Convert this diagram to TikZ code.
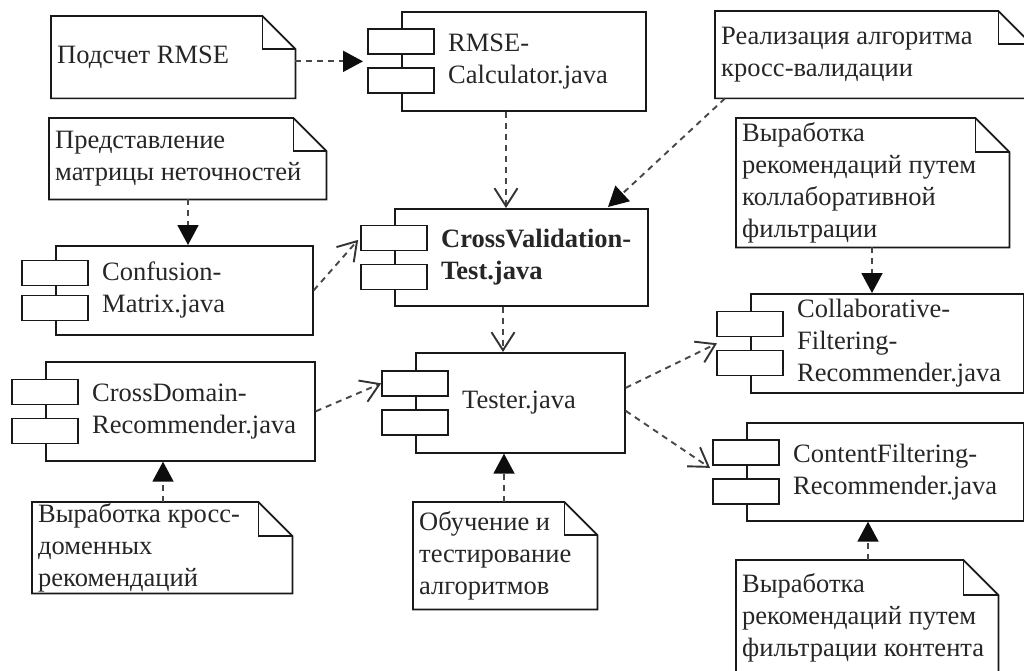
\documentclass[tikz,border=0pt]{standalone}
\usepackage{fontspec}
\setmainfont{Liberation Serif}
\usetikzlibrary{arrows.meta,calc}

\tikzset{
  every node/.style={font=\fontsize{26.5}{32}\selectfont, text=black!85},
  compbox/.style={draw=black!90, line width=1.7pt, fill=white, inner sep=0pt, anchor=north west},
  portbox/.style={draw=black!90, line width=1.7pt, fill=white, minimum width=66pt, minimum height=25pt, inner sep=0pt},
  comptext/.style={anchor=west, align=left, inner sep=0pt},
  notebox/.style={inner sep=0pt, anchor=north west},
  noteline/.style={draw=black!90, line width=1.7pt, fill=white, line join=miter},
  notetext/.style={anchor=west, align=left, inner sep=0pt},
  depline/.style={draw=black!72, line width=1.9pt, dash pattern=on 6pt off 5pt},
  solidtip/.style={-{Triangle[length=20pt,width=21pt,color=black!95]}},
  opentip/.style={-{Straight Barb[length=18pt,width=23pt,color=black!80]}},
}

% component: name, x, y, width, height, port offset, text
\newcommand\compo[7]{%
  \node[compbox, minimum width=#4pt, minimum height=#5pt] (#1) at (#2,#3) {};
  \node[portbox] (#1-a) at ($(#1.west)+(0,-#6)$) {};
  \node[portbox] (#1-b) at ($(#1.west)+(0,#6)$) {};
  \node[comptext] (#1-t) at ($(#1.west)+(47,0)$) {#7};
}

% note with folded corner: name, x, y, width, height, fold, text
\newcommand\memo[7]{%
  \node[notebox, minimum width=#4pt, minimum height=#5pt] (#1) at (#2,#3) {};
  \draw[noteline] (#1.north west) -- ($(#1.north east)+(-#6,0)$) -- ($(#1.north east)+(0,#6)$)
    -- (#1.south east) -- (#1.south west) -- cycle;
  \draw[noteline, fill=none] ($(#1.north east)+(-#6,0)$) -- ($(#1.north east)+(-#6,#6)$)
    -- ($(#1.north east)+(0,#6)$);
  \node[notetext] (#1-t) at ($(#1.west)+(6,0)$) {#7};
}

\begin{document}
\begin{tikzpicture}[x=1pt,y=-1pt]
\useasboundingbox (0,0) rectangle (1024,671);
\fill[white] (0,0) rectangle (1024,671);
\clip (0,0) rectangle (1024,671);

% notes
\memo{nrmse}{51}{16}{244}{82}{33}{Подсчет RMSE}
\memo{nconf}{49}{118}{277}{81}{33}{Представление\\матрицы неточностей}
\memo{ncv}{715}{11}{316}{87}{33}{Реализация алгоритма\\кросс-валидации}
\memo{ncollab}{736}{118}{273}{129}{34}{Выработка\\рекомендаций путем\\коллаборативной\\фильтрации}
\memo{ntester}{413}{502}{184}{107}{33}{Обучение и\\тестирование\\алгоритмов}
\memo{ncross}{32}{502}{260}{91}{34}{Выработка кросс-\\доменных\\рекомендаций}
\memo{ncontent}{736}{560}{262}{116}{35}{Выработка\\рекомендаций путем\\фильтрации контента}

% components
\compo{rmse}{401}{11}{244}{99}{19.5}{RMSE-\\Calculator.java}
\compo{cv}{394}{208}{253}{97}{19.5}{{\bfseries CrossValidation-}\\{\bfseries Test.java}}
\compo{conf}{55}{245}{257}{89}{17.5}{Confusion-\\Matrix.java}
\compo{cross}{45}{361}{269}{99}{19.5}{CrossDomain-\\Recommender.java}
\compo{tester}{415}{352}{209}{100}{19.5}{Tester.java}
\compo{collab}{750}{293}{272.5}{99}{19.5}{Collaborative-\\Filtering-\\Recommender.java}
\compo{content}{746}{422}{276.5}{98}{19.5}{ContentFiltering-\\Recommender.java}

% dependencies
\draw[depline, solidtip] (nrmse.east |- rmse.west) -- ($(rmse.west)+(-38,0)$);
\draw[depline, opentip] ($(rmse.south west)+(105,0)$) -- ($(cv.north west)+(112,0)$);
\draw[depline, solidtip] ($(ncv.south west)+(10,0)$) -- ($(cv.north west)+(214,-1)$);
\draw[depline, solidtip] ($(nconf.south west)+(139,0)$) -- ($(conf.north west)+(133,0)$);
\draw[depline, opentip] (conf.east) -- ($(cv-a.west)+(-2,2)$);
\draw[depline, opentip] (cross.east) -- (tester-a.west);
\draw[depline, solidtip] ($(ncross.north west)+(131,0)$) -- ($(cross.south west)+(118,0)$);
\draw[depline, opentip] ($(cv.south west)+(109,0)$) -- ($(tester.north west)+(88,0)$);
\draw[depline, solidtip] ($(ntester.north west)+(91,0)$) -- ($(tester.south west)+(89,0)$);
\draw[depline, opentip] ($(tester.east)+(0,-15)$) -- ($(collab.west)+(-33,0)$);
\draw[depline, opentip] ($(tester.east)+(0,8)$) -- ($(content.west)+(-36,-4)$);
\draw[depline, solidtip] ($(ncollab.south west)+(136,0)$) -- ($(collab.north west)+(122,0)$);
\draw[depline, solidtip] ($(ncontent.north west)+(132,0)$) -- ($(content.south west)+(122,0)$);
\end{tikzpicture}
\end{document}
